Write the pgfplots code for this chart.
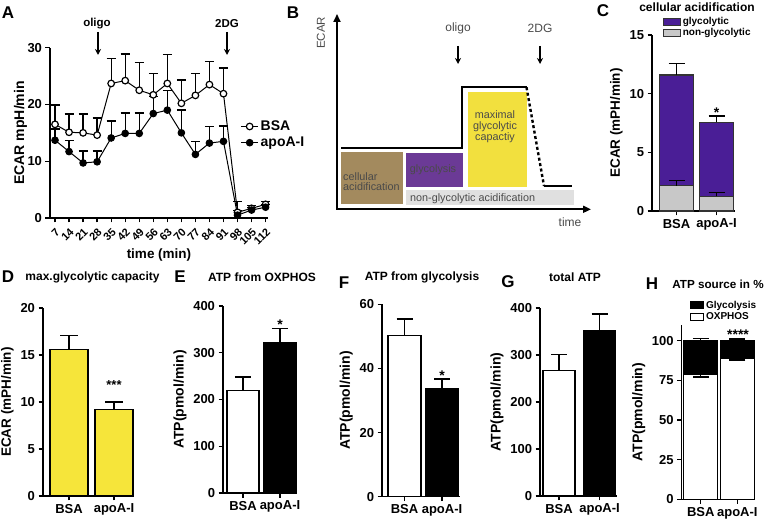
\documentclass[border=0pt]{standalone}
\usepackage{pgfplots}
\pgfplotsset{compat=1.18}
\usepackage{fontspec}
\setmainfont{Liberation Sans}
\usetikzlibrary{arrows.meta}
\definecolor{gpPurple}{HTML}{4A1E96}
\definecolor{gpGray}{HTML}{C8C8C8}
\definecolor{gpYellow}{HTML}{F6E53A}
\definecolor{sBrown}{HTML}{A38A5E}
\definecolor{sPurple}{HTML}{6B3A96}
\definecolor{sYellow}{HTML}{F2E03E}
\definecolor{sGray}{HTML}{E0E0E0}
\definecolor{sText}{HTML}{4A4A4A}
\newcommand{\fs}[1]{\fontsize{#1bp}{#1bp}\selectfont}
\pgfplotsset{
  gp/.style={scale only axis, anchor=south west, clip=false, enlargelimits=false,
    axis x line*=bottom, axis y line*=left,
    axis line style={line width=1.3bp},
    tick align=outside, major tick length=4.5bp,
    every tick/.append style={line width=1.3bp, black},
    yticklabel style={font=\bfseries\fs{13}},
    xticklabel style={font=\bfseries\fs{13}},
    /pgf/number format/assume math mode=true,
    ylabel style={font=\bfseries\fs{13.5}},
    xlabel style={font=\bfseries\fs{13.5}},
    ymin=0},
  gpbar/.style={gp, ybar, xtick={0,1}, xticklabels={BSA,apoA-I}},
  bp/.style={fill=#1, draw=black, line width=1.3bp, bar shift=0pt},
  eb/.style n args={2}{/pgfplots/error bars/y dir=#1, /pgfplots/error bars/y explicit,
     /pgfplots/error bars/error bar style={line width=1.3bp, black, solid},
     /pgfplots/error bars/error mark options={mark size=#2, line width=1.3bp, black, rotate=90}},
}
\begin{document}
\begin{tikzpicture}
\useasboundingbox (0,0) rectangle (766bp,520bp);
% ---------------- Panel A
\begin{axis}[gp, at={(50bp,302bp)}, width=218bp, height=170.3bp,
  xmin=4.5, xmax=113.2, ymax=30, ytick={0,10,20,30},
  xtick={7,14,...,112},
  xticklabel style={rotate=45, anchor=north east, font=\bfseries\fs{11}},
  xlabel={time (min)}, ylabel={ECAR mpH/min},
  xlabel style={at={(axis description cs:0.5,-0.215)}, anchor=center},
  ylabel style={at={(axis description cs:-0.135,0.5)}, anchor=center, font=\bfseries\fs{14}},
  legend style={at={(0.86,0.49)}, anchor=west, draw=none, fill=none, font=\bfseries\fs{14}, row sep=1bp},
  legend cell align=left]
\addplot[black, line width=1bp, mark=*, mark size=3.3bp, mark options={fill=white, line width=1.2bp, solid}, eb={plus}{4.5bp}] coordinates {
(7,16.5) +- (0,3.4)
(14,15.1) +- (0,3.2)
(21,15.0) +- (0,3.3)
(28,14.6) +- (0,3.0)
(35,23.7) +- (0,4.4)
(42,24.2) +- (0,4.7)
(49,22.5) +- (0,4.9)
(56,21.7) +- (0,3.7)
(63,23.7) +- (0,5.1)
(70,20.2) +- (0,4.1)
(77,21.6) +- (0,3.9)
(84,23.5) +- (0,4.1)
(91,21.9) +- (0,4.5)
(98,1.0) +- (0,1.9)
(105,1.7) +- (0,0.5)
(112,2.4) +- (0,0.5)
};
\addlegendentry{BSA}
\addplot[black, line width=1bp, mark=*, mark size=3.3bp, mark options={fill=black, solid}, eb={plus}{4.5bp}] coordinates {
(7,13.7) +- (0,2.0)
(14,11.7) +- (0,2.0)
(21,9.7) +- (0,2.1)
(28,9.9) +- (0,1.9)
(35,14.1) +- (0,3.0)
(42,14.9) +- (0,3.6)
(49,14.9) +- (0,3.6)
(56,18.4) +- (0,3.0)
(63,19.0) +- (0,3.5)
(70,15.0) +- (0,4.0)
(77,11.2) +- (0,2.3)
(84,13.2) +- (0,2.9)
(91,13.5) +- (0,2.7)
(98,0.5) +- (0,0.8)
(105,1.4) +- (0,0.5)
(112,1.9) +- (0,0.5)
};
\addlegendentry{apoA-I}
\end{axis}
\node[font=\bfseries\fs{11.5}] at (97bp,496bp) {oligo};
\draw[line width=1.5bp, -{Stealth[length=6bp,width=6bp]}] (98bp,488bp) -- (98bp,465bp);
\node[font=\bfseries\fs{11.5}] at (227bp,496bp) {2DG};
\draw[line width=1.5bp, -{Stealth[length=6bp,width=6bp]}] (227bp,488bp) -- (227bp,465bp);
% ---------------- Panel B (schematic)
\begin{axis}[scale only axis, anchor=south west, at={(0bp,0bp)}, width=766bp, height=520bp,
  xmin=0, xmax=766, ymin=0, ymax=520, hide axis, clip=false]
\addplot[fill=sBrown, draw=none] coordinates {(341,316) (403,316) (403,368) (341,368)} --cycle;
\addplot[fill=sPurple, draw=none] coordinates {(406,332.7) (463,332.7) (463,367.3) (406,367.3)} --cycle;
\addplot[fill=sYellow, draw=none] coordinates {(468,332.7) (527,332.7) (527,428.3) (468,428.3)} --cycle;
\addplot[fill=sGray, draw=none] coordinates {(406,315) (574,315) (574,330) (406,330)} --cycle;
\addplot[black, line width=1.8bp] coordinates {(341,371.7) (462,371.7) (462,432.7) (526.5,432.7)};
\addplot[black, line width=2.4bp, dash pattern=on 3bp off 2.5bp] coordinates {(526.5,432.7) (544,334)};
\addplot[black, line width=1.8bp] coordinates {(544,334) (572,334)};
\end{axis}
\draw[line width=1.8bp, -{Triangle[length=8bp,width=7bp]}] (337bp,310.7bp) -- (337bp,506bp);
\draw[line width=1.8bp, -{Triangle[length=8bp,width=7bp]}] (336bp,310.7bp) -- (591bp,310.7bp);
\node[rotate=90, text=sText, font=\fs{11.5}] at (321bp,487bp) {ECAR};
\node[text=sText, font=\fs{12}] at (570bp,298bp) {time};
\node[text=sText, font=\fs{12}] at (458bp,492bp) {oligo};
\draw[line width=1.5bp, -{Stealth[length=6bp,width=6bp]}] (458bp,474bp) -- (458bp,456bp);
\node[text=sText, font=\fs{12}] at (540bp,492bp) {2DG};
\draw[line width=1.5bp, -{Stealth[length=6bp,width=6bp]}] (540bp,474bp) -- (540bp,456bp);
\node[text=sText, font=\fs{10.8}, align=left, anchor=west, inner sep=0pt] at (343bp,338.3bp) {cellular\\[-0.3bp]acidification};
\node[text=sText, font=\fs{10.8}] at (433bp,350bp) {glycolysis};
\node[text=sText, font=\fs{10.8}, align=center] at (495bp,393.3bp) {maximal\\glycolytic\\capactiy};
\node[text=sText, font=\fs{10.8}, anchor=west, inner sep=0pt] at (410bp,321.7bp) {non-glycolytic acidification};
% ---------------- Panel C
\begin{axis}[gpbar, at={(652bp,309bp)}, width=83bp, height=176bp,
  xmin=-0.6125, xmax=1.4625, ymax=15, ytick={0,5,10,15}, bar width=34bp,
  ylabel={ECAR (mPH/min)},
  legend style={at={(0.13,1.114)}, anchor=north west, draw=none, fill=none, font=\bfseries\fs{10}, row sep=-1.5bp, inner sep=0pt},
  legend cell align=left,
  legend image code/.code={\draw[#1, line width=0.8bp] (0bp,-3.5bp) rectangle (17bp,3.5bp);}]
\addplot[bp=gpPurple, draw=black!80, eb={plus}{8bp}] coordinates {(0,11.6) +- (0,1.0) (1,7.55) +- (0,0.55)};
\addlegendentry{glycolytic}
\addplot[bp=gpGray, draw=black!80, eb={plus}{8bp}] coordinates {(0,2.15) +- (0,0.45) (1,1.25) +- (0,0.35)};
\addlegendentry{non-glycolytic}
\end{axis}
% ---------------- Panel D
\begin{axis}[gpbar, at={(43bp,24bp)}, width=91bp, height=188bp,
  xmin=-0.578, xmax=1.444, ymax=20, ytick={0,5,...,20}, bar width=38bp,
  ylabel={ECAR (mPH/min)}]
\addplot[bp=gpYellow, eb={plus}{9bp}] coordinates {(0,15.6) +- (0,1.5) (1,9.2) +- (0,0.8)};
\end{axis}
% ---------------- Panel E
\begin{axis}[gpbar, at={(223bp,27bp)}, width=74bp, height=187bp,
  xmin=-0.54, xmax=1.46, ymax=400, ytick={0,100,...,400}, bar width=32bp,
  ylabel={ATP(pmol/min)}, ylabel style={font=\bfseries\fs{14}}]
\addplot[bp=white, eb={plus}{8bp}] coordinates {(0,219) +- (0,29)};
\addplot[bp=black, eb={plus}{8bp}] coordinates {(1,321) +- (0,31)};
\end{axis}
% ---------------- Panel F
\begin{axis}[gpbar, at={(382bp,23.3bp)}, width=78bp, height=192.5bp,
  xmin=-0.6, xmax=1.48, ymax=60, ytick={0,20,40,60}, bar width=33bp,
  ylabel={ATP(pmol/min)}, ylabel style={font=\bfseries\fs{14}}]
\addplot[bp=white, eb={plus}{8bp}] coordinates {(0,50.2) +- (0,5.2)};
\addplot[bp=black, eb={plus}{8bp}] coordinates {(1,33.8) +- (0,2.9)};
\end{axis}
% ---------------- Panel G
\begin{axis}[gpbar, at={(540bp,24bp)}, width=77bp, height=188bp,
  xmin=-0.47, xmax=1.43, ymax=400, ytick={0,100,...,400}, bar width=32bp,
  ylabel={ATP(pmol/min)}, ylabel style={font=\bfseries\fs{14}}]
\addplot[bp=white, eb={plus}{8bp}] coordinates {(0,267) +- (0,34)};
\addplot[bp=black, eb={plus}{8bp}] coordinates {(1,352) +- (0,35)};
\end{axis}
% ---------------- Panel H
\begin{axis}[gpbar, at={(681.7bp,20.7bp)}, width=73.3bp, height=174.3bp,
  xmin=-0.523, xmax=1.485, ymax=109.8, ytick={0,25,...,100}, bar width=34bp,
  ylabel={ATP(pmol/min)}, ylabel style={font=\bfseries\fs{14}},
  legend style={at={(0.113,1.15)}, anchor=north west, draw=none, fill=none, font=\bfseries\fs{10}, row sep=-1.5bp, inner sep=0pt},
  legend cell align=left,
  legend image code/.code={\draw[#1, line width=0.9bp] (0bp,-3.5bp) rectangle (13bp,3.5bp);}]
\addplot[bp=black, eb={plus}{8bp}] coordinates {(0,100) +- (0,1.5) (1,100) +- (0,1.0)};
\addlegendentry{Glycolysis}
\addplot[bp=white, eb={minus}{8bp}] coordinates {(0,79) +- (0,2.0) (1,88.6) +- (0,0.8)};
\addlegendentry{OXPHOS}
\end{axis}
% ---------------- titles, stars, letters
\node[font=\bfseries\fs{12}] at (697bp,513bp) {cellular acidification};
\node[font=\bfseries\fs{12}] at (92.5bp,243bp) {max.glycolytic capacity};
\node[font=\bfseries\fs{12}] at (262bp,243bp) {ATP from OXPHOS};
\node[font=\bfseries\fs{12}] at (422bp,243bp) {ATP from glycolysis};
\node[font=\bfseries\fs{12}] at (575bp,243bp) {total ATP};
\node[font=\bfseries\fs{11.7}] at (718bp,236bp) {ATP source in \%};
\node[font=\bfseries\fs{14}] at (716.5bp,407bp) {*};
\node[font=\bfseries\fs{13}] at (114bp,135bp) {***};
\node[font=\bfseries\fs{14}] at (280bp,195bp) {*};
\node[font=\bfseries\fs{14}] at (442bp,144bp) {*};
\node[font=\bfseries\fs{14}] at (738bp,185bp) {****};
\node[font=\bfseries\fs{17}] at (8bp,507bp) {A};
\node[font=\bfseries\fs{17}] at (293bp,507bp) {B};
\node[font=\bfseries\fs{17}] at (603bp,509bp) {C};
\node[font=\bfseries\fs{17}] at (8bp,243bp) {D};
\node[font=\bfseries\fs{17}] at (180bp,243bp) {E};
\node[font=\bfseries\fs{17}] at (344bp,237bp) {F};
\node[font=\bfseries\fs{17}] at (508bp,238bp) {G};
\node[font=\bfseries\fs{17}] at (652bp,236bp) {H};
\end{tikzpicture}
\end{document}
